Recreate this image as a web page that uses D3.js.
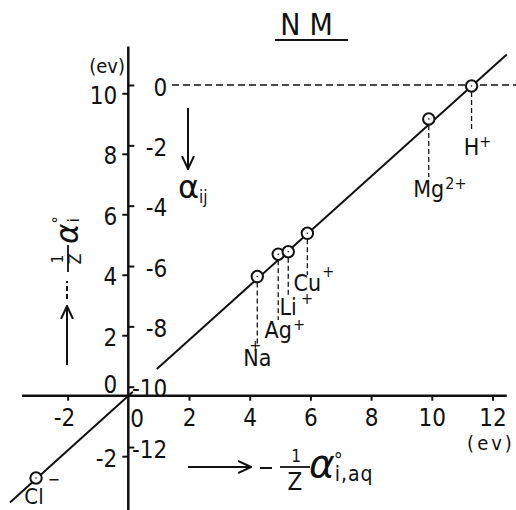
<!DOCTYPE html>
<html>
<head>
<meta charset="utf-8">
<title>NM</title>
<script src="https://d3js.org/d3.v7.min.js"></script>
<style>
body { margin: 0; background: #fff; }
svg text { font-family: "Liberation Sans Narrow", "DejaVu Sans Condensed", sans-serif; fill: #111; }
.axis path { display: none; }
.axis line { stroke: #111; stroke-width: 2; }
.axis text { font-size: 24px; }
.axisline { stroke: #111; stroke-width: 2.5; }
.fit { fill: none; stroke: #111; stroke-width: 2; }
.drop { stroke: #111; stroke-width: 1.3; stroke-dasharray: 5,3; }
.ref { stroke: #111; stroke-width: 1.4; stroke-dasharray: 7,4; }
.dot { fill: #fff; stroke: #111; stroke-width: 2; }
.arrow { fill: none; stroke: #111; stroke-width: 2; }
</style>
</head>
<body>
<div id="chart"></div>
<script>
// ions
var ions     = ["Na", "Ag", "Li", "Cu", "Mg", "H", "Cl"];
var charges  = ["+", "+", "+", "+", "2+", "+", "\u2212"];
var aqValues = [4.25, 4.94, 5.27, 5.90, 9.90, 11.31, -3.04];   // -1/Z a°(i,aq)
var gValues  = [3.94, 4.68, 4.76, 5.37, 9.15, 10.24, -2.72];   // -1/Z a°(i)

// straight line through the points (drawn in two pieces)
var fitLower = [[-3.9, -3.53], [0.15, 0.13]];
var fitUpper = [[0.94, 0.88], [12.47, 11.28]];

var xTicks = [-2, 2, 4, 6, 8, 10, 12];
var yTicks = [-2, 2, 4, 6, 8, 10];
var alphaTicks = [-12, -10, -8, -6, -4, -2, 0];

// where the dashed drop lines end and the labels sit (screen px)
var dropEnd   = [346, 320, 297, 275, 177, 132, null];
var labelBase = [366, 338, 315, 291, 197, 155, 504];
var chargeDx  = [-22, 1, 4, 1, 1, 0, 4];
var chargeDy  = [-15, -8, -11, -14, -8, -8, -19];

var W = 516, H = 510;

var x = d3.scaleLinear().domain([0, 12]).range([128.3, 492.5]);
var y = d3.scaleLinear().domain([0, 10]).range([395.7, 93.3]);
var yA = d3.scaleLinear().domain([-10, 0]).range([386.7, 85]);

var fmt = function(d) { return d < 0 ? "-" + Math.abs(d) : String(d); };

var svg = d3.select("#chart").append("svg")
    .attr("width", W)
    .attr("height", H);

var defs = svg.append("defs");
defs.append("marker")
    .attr("id", "head")
    .attr("viewBox", "0 0 14 14")
    .attr("refX", 13).attr("refY", 7)
    .attr("markerWidth", 14).attr("markerHeight", 14)
    .attr("markerUnits", "userSpaceOnUse")
    .attr("orient", "auto")
  .append("path")
    .attr("d", "M0,1 L13,7 L0,13")
    .attr("fill", "none").attr("stroke", "#111").attr("stroke-width", 2);

// title
svg.append("text")
    .attr("x", 311).attr("y", 35)
    .attr("text-anchor", "middle")
    .style("font-size", "30px")
    .style("letter-spacing", "9px")
    .text("NM");
svg.append("line").attr("class", "axisline")
    .attr("x1", 275).attr("x2", 348).attr("y1", 40).attr("y2", 40)
    .style("stroke-width", 2);

// main axes
svg.append("line").attr("class", "axisline")
    .attr("x1", x(-3.5)).attr("x2", x(12.47))
    .attr("y1", y(0)).attr("y2", y(0));
svg.append("line").attr("class", "axisline")
    .attr("x1", x(0)).attr("x2", x(0))
    .attr("y1", y(11.55)).attr("y2", H);

// x axis ticks
var gx = svg.append("g")
    .attr("class", "axis")
    .attr("transform", "translate(0," + y(0) + ")")
    .call(d3.axisBottom(x).tickValues(xTicks).tickFormat(fmt).tickSize(5).tickPadding(8));
gx.selectAll("text").attr("dx", function(d) { return d < 0 ? "-0.15em" : 0; });
svg.append("text")
    .attr("x", x(0) + 2).attr("y", y(0) + 31)
    .style("font-size", "24px")
    .text("0");

// left y axis
var gy = svg.append("g")
    .attr("class", "axis")
    .attr("transform", "translate(" + x(0) + ",0)")
    .call(d3.axisLeft(y).tickValues(yTicks).tickFormat(fmt).tickSize(6).tickPadding(5));
gy.selectAll("text").attr("dy", "0.42em");
svg.append("text")
    .attr("x", x(0) - 11).attr("y", y(0) - 3)
    .attr("text-anchor", "end")
    .style("font-size", "24px")
    .text("0");

// right scale for a_ij
var ga = svg.append("g")
    .attr("class", "axis")
    .attr("transform", "translate(" + x(0) + ",0)")
    .call(d3.axisRight(yA).tickValues(alphaTicks).tickFormat(fmt).tickSize(6));
ga.selectAll("text")
    .attr("x", 39)
    .attr("dy", "0.42em")
    .attr("text-anchor", "end");

// a_ij = 0 reference
svg.append("line").attr("class", "ref")
    .attr("x1", 172).attr("x2", W)
    .attr("y1", yA(0)).attr("y2", yA(0));

// unit labels
svg.append("text")
    .attr("x", 125).attr("y", 73)
    .attr("text-anchor", "end")
    .style("font-size", "20px")
    .text("(ev)");
svg.append("text")
    .attr("x", 491).attr("y", 450)
    .attr("text-anchor", "middle")
    .style("font-size", "20px")
    .style("letter-spacing", "3px")
    .text("(ev)");

// fitted line
var line = d3.line()
    .x(function(d) { return x(d[0]); })
    .y(function(d) { return y(d[1]); });
svg.append("path").attr("class", "fit").attr("d", line(fitLower));
svg.append("path").attr("class", "fit").attr("d", line(fitUpper));

// drop lines
svg.selectAll(".drop")
    .data(ions.filter(function(d, i) { return dropEnd[i] !== null; }))
  .enter().append("line")
    .attr("class", "drop")
    .attr("x1", function(d, i) { return x(aqValues[i]); })
    .attr("x2", function(d, i) { return x(aqValues[i]); })
    .attr("y1", function(d, i) { return y(gValues[i]) + 6; })
    .attr("y2", function(d, i) { return dropEnd[i]; });

// points
svg.selectAll(".dot")
    .data(ions)
  .enter().append("circle")
    .attr("class", "dot")
    .attr("cx", function(d, i) { return x(aqValues[i]); })
    .attr("cy", function(d, i) { return y(gValues[i]); })
    .attr("r", 5.7);
svg.selectAll(".pip")
    .data(ions)
  .enter().append("circle")
    .attr("class", "pip")
    .attr("cx", function(d, i) { return x(aqValues[i]); })
    .attr("cy", function(d, i) { return y(gValues[i]); })
    .attr("r", 0.8)
    .attr("fill", "#111");

// ion labels: symbol centred under its point, charge as raised tspan
svg.selectAll(".ion")
    .data(ions)
  .enter().append("text")
    .attr("class", "ion")
    .attr("y", function(d, i) { return labelBase[i]; })
    .style("font-size", function(d, i) { return i === 6 ? "22px" : "23px"; })
    .each(function(d, i) {
      var t = d3.select(this);
      t.append("tspan").text(d);
      var w = this.getComputedTextLength();
      var cx = x(aqValues[i]) - (i === 6 ? 2 : 0);
      t.attr("x", cx - w / 2);
      t.append("tspan")
          .attr("dx", chargeDx[i])
          .attr("dy", chargeDy[i])
          .style("font-size", "16px")
          .text(charges[i]);
    });

// x axis title: -> -1/Z a°(i,aq)
svg.append("line").attr("class", "arrow")
    .attr("x1", 188).attr("x2", 251).attr("y1", 467).attr("y2", 467)
    .attr("marker-end", "url(#head)");
svg.append("line").attr("class", "arrow")
    .attr("x1", 260).attr("x2", 272).attr("y1", 468).attr("y2", 468);
svg.append("line").attr("class", "arrow")
    .attr("x1", 280).attr("x2", 310).attr("y1", 467).attr("y2", 467)
    .style("stroke-width", 1.8);
svg.append("text").attr("x", 296).attr("y", 462)
    .attr("text-anchor", "middle").style("font-size", "17px").text("1");
svg.append("text").attr("x", 295).attr("y", 490)
    .attr("text-anchor", "middle").style("font-size", "24px").text("Z");
var xt = svg.append("text").attr("x", 309).attr("y", 477);
xt.append("tspan")
    .style("font-size", "39px").style("font-style", "italic")
    .style("font-family", "'DejaVu Sans', sans-serif")
    .text("\u03b1");
xt.append("tspan").attr("dx", -1).attr("dy", -10)
    .style("font-size", "20px").text("\u00b0");
xt.append("tspan").attr("dx", -8).attr("dy", 14)
    .style("font-size", "21px").style("letter-spacing", "1px").text("i,aq");

// y axis title, rotated
var yt = svg.append("g").attr("transform", "translate(67,365) rotate(-90)");
yt.append("line").attr("class", "arrow")
    .attr("x1", 0).attr("x2", 59).attr("y1", 0).attr("y2", 0)
    .attr("marker-end", "url(#head)");
yt.append("line").attr("class", "arrow")
    .attr("x1", 66).attr("x2", 84).attr("y1", 0).attr("y2", 0)
    .style("stroke-dasharray", "5,3");
yt.append("line").attr("class", "arrow")
    .attr("x1", 93).attr("x2", 120).attr("y1", 1).attr("y2", 1)
    .style("stroke-width", 1.8);
yt.append("text").attr("x", 106).attr("y", -4)
    .attr("text-anchor", "middle").style("font-size", "15px").text("1");
yt.append("text").attr("x", 106).attr("y", 14)
    .attr("text-anchor", "middle").style("font-size", "18px").text("Z");
var ytt = yt.append("text").attr("x", 121).attr("y", 11);
ytt.append("tspan")
    .style("font-size", "31px").style("font-style", "italic")
    .style("font-family", "'DejaVu Sans', sans-serif")
    .text("\u03b1");
ytt.append("tspan").attr("dx", 0).attr("dy", -14)
    .style("font-size", "16px").text("\u00b0");
ytt.append("tspan").attr("dx", -6).attr("dy", 15)
    .style("font-size", "16px").text("i");

// a_ij label with downward arrow
svg.append("line").attr("class", "arrow")
    .attr("x1", 188).attr("x2", 188).attr("y1", 108).attr("y2", 169)
    .attr("marker-end", "url(#head)");
var aij = svg.append("text").attr("x", 178).attr("y", 198);
aij.append("tspan")
    .style("font-size", "32px")
    .style("font-family", "'DejaVu Sans', sans-serif")
    .text("\u03b1");
aij.append("tspan").attr("dy", 5)
    .style("font-size", "17px").text("ij");
</script>
</body>
</html>
